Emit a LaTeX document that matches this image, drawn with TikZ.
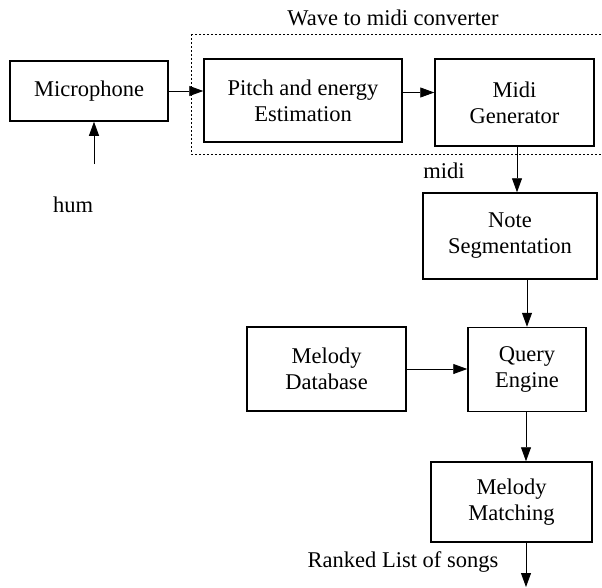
\documentclass[tikz,border=0pt]{standalone}
\usepackage{fontspec}
\setmainfont{Liberation Serif}
\usetikzlibrary{arrows.meta}
\tikzset{
  block/.style={draw, line width=1.5pt, align=center, inner sep=0pt},
  arr/.style={line width=0.8pt, -{Triangle[length=14pt,width=10pt]}},
  lbl/.style={inner sep=0pt}
}

\begin{document}
\begin{tikzpicture}[x=1pt,y=-1pt,font=\fontsize{22.5}{26}\selectfont]
      \useasboundingbox (0,0) rectangle (602,587);
      % wave to midi converter
      \draw[dash pattern=on 2pt off 2pt, line width=0.8pt] (191,34) rectangle (610,154);
      \node[lbl] (wave) at (393,18) {Wave to midi converter};
      % blocks
      \node[block, minimum width=158pt, minimum height=60pt] (mic) at (89,91) {Microphone};
      \node[block, minimum width=198pt, minimum height=83pt] (pitch) at (303,100.5) {Pitch and energy\\Estimation};
      \node[block, minimum width=159pt, minimum height=87pt] (midigen) at (514.5,102.5) {Midi\\Generator};
      \node[block, minimum width=174pt, minimum height=86pt] (note) at (510,236) {Note\\Segmentation};
      \node[block, minimum width=118pt, minimum height=84pt] (query) at (527,369.5) {Query\\Engine};
      \node[block, minimum width=159pt, minimum height=84pt] (db) at (326.5,369) {Melody\\Database};
      \node[block, minimum width=161pt, minimum height=80pt] (match) at (511.5,502) {Melody\\Matching};
      % labels
      \node[lbl] (hum) at (73,205) {hum};
      \node[lbl] (midi) at (444,171) {midi};
      \node[lbl] (ranked) at (403,562) {Ranked List of songs};
      \coordinate (humtail) at (94,164);
      \coordinate (out) at (526,587);
      % connectors
      \draw[arr] (humtail) -- (humtail |- mic.south);
      \draw[arr] (mic.east) -- (mic.east -| pitch.west);
      \draw[arr] ([yshift=8pt]pitch.east) -- ([yshift=8pt]pitch.east -| midigen.west);
      \draw[arr] ([xshift=2.5pt]midigen.south) -- ([xshift=2.5pt]midigen.south |- note.north);
      \draw[arr] (query.north |- note.south) -- (query.north);
      \draw[arr] (db.east) -- (db.east -| query.west);
      \draw[arr] ([xshift=-1pt]query.south) -- ([xshift=-1pt]query.south |- match.north);
      \draw[arr] (out |- match.south) -- (out);
\end{tikzpicture}
\end{document}
